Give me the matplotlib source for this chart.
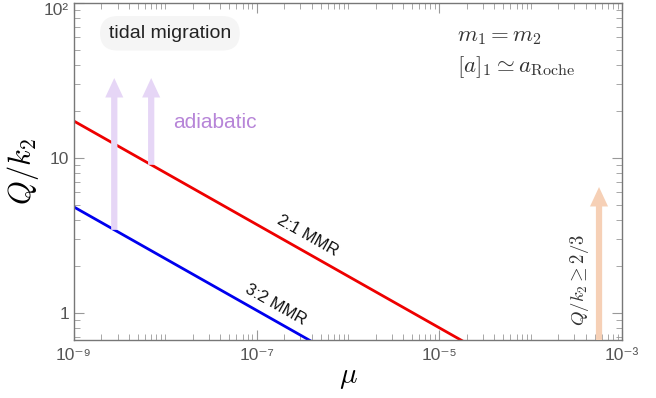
import numpy as np
import matplotlib
matplotlib.use('Agg')
import matplotlib.pyplot as plt
import matplotlib.transforms as mtransforms
from matplotlib.ticker import FixedLocator, LogLocator, NullFormatter

plt.rcParams['font.family'] = ['Liberation Sans', 'DejaVu Sans']
plt.rcParams['mathtext.fontset'] = 'cm'

## donnees
mu = [1e-9, 1e-3]
Q_21 = [17.3, 0.173]      # 2:1 MMR, pente -1/3
Q_32 = [4.83, 0.0483]     # 3:2 MMR
x_ticks = [1e-9, 1e-7, 1e-5, 1e-3]
x_labels = ['10⁻⁹', '10⁻⁷', '10⁻⁵', '10⁻³']
y_ticks = [1, 10, 100]
y_labels = ['1', '10', '10²']

# fleches: (mu, Q bas, Q haut)
arrows_adiab = [(2.76e-9, 3.44, 32.8), (7.0e-9, 9.04, 32.8)]
arrow_q = (5.6e-4, 0.67, 6.5)

grey = '#555555'

fig = plt.figure(figsize=(6.56, 3.98), dpi=100)
ax = fig.add_axes([0.1128, 0.1457, 0.8354, 0.8468])

ax.loglog(mu, Q_21, color='#ee0000', lw=2)
ax.loglog(mu, Q_32, color='#0000ee', lw=2)
ax.set_xlim(1e-9, 1e-3)
ax.set_ylim(0.67, 100)

for m, q0, q1 in arrows_adiab:
    ax.annotate('', xy=(m, q1), xytext=(m, q0),
                arrowprops=dict(arrowstyle='simple,head_length=1.4,head_width=1.3,tail_width=0.45',
                                mutation_scale=10, color='#e6d6f6', lw=0, shrinkA=0, shrinkB=0))
ax.annotate('', xy=(arrow_q[0], arrow_q[2]), xytext=(arrow_q[0], arrow_q[1]),
            arrowprops=dict(arrowstyle='simple,head_length=1.4,head_width=1.3,tail_width=0.45',
                            mutation_scale=10, color='#f6d0b6', lw=0, shrinkA=0, shrinkB=0))

# textes
ax.text(0.175, 0.91, 'tidal migration', transform=ax.transAxes, ha='center', va='center',
        fontsize=14, color='#222222',
        bbox=dict(boxstyle='round,pad=0.45,rounding_size=0.9', fc='#f5f5f5', ec='none'))
ax.text(0.257, 0.644, 'adiabatic', transform=ax.transAxes, ha='center', va='center',
        fontsize=15, color='#b785d8')
ax.text(0.699, 0.905, r'$m_1 = m_2$', transform=ax.transAxes, ha='left', va='center',
        fontsize=16.5, color='#333333')
ax.text(0.699, 0.81, r'$[a]_1 \simeq a_{\rm Roche}$', transform=ax.transAxes, ha='left', va='center',
        fontsize=16.5, color='#333333')
ax.text(0.427, 0.31, '2:1 MMR', transform=ax.transAxes, ha='center', va='center',
        fontsize=12, rotation=-29.5, color='#111111')
ax.text(0.368, 0.105, '3:2 MMR', transform=ax.transAxes, ha='center', va='center',
        fontsize=12, rotation=-29.5, color='#111111')
ax.text(0.923, 0.178, r'$Q/k_2 \geq 2/3$', transform=ax.transAxes, ha='center', va='center',
        fontsize=13.5, rotation=90, color='#333333')

ax.set_xlabel(r'$\mu$', fontsize=21, labelpad=0)
ax.set_ylabel(r'$Q/k_2$', fontsize=22, labelpad=2)

ax.xaxis.set_major_locator(FixedLocator(x_ticks))
ax.set_xticklabels(x_labels)
ax.xaxis.set_minor_locator(LogLocator(base=10, subs=np.arange(1, 10), numticks=30))
ax.xaxis.set_minor_formatter(NullFormatter())
ax.yaxis.set_major_locator(FixedLocator(y_ticks))
ax.set_yticklabels(y_labels)
ax.yaxis.set_minor_locator(LogLocator(base=10, subs=np.arange(2, 10), numticks=30))
ax.yaxis.set_minor_formatter(NullFormatter())

ax.tick_params(which='both', direction='in', top=True, right=True, color='#999999',
               labelcolor=grey, labelsize=12.5)
ax.tick_params(axis='x', which='major', pad=6)
ax.tick_params(which='major', length=7, width=0.8)
ax.tick_params(which='minor', length=4, width=0.6)
for s in ax.spines.values():
    s.set_color('#777777')
    s.set_linewidth(1.0)

# le label 10^2 est tout en haut: on le descend un peu pour qu'il ne soit pas coupe
top_lab = ax.get_yticklabels()[-1]
top_lab.set_transform(top_lab.get_transform() +
                      mtransforms.ScaledTranslation(0, -4 / 72, fig.dpi_scale_trans))

fig.savefig('out.png', dpi=100)
